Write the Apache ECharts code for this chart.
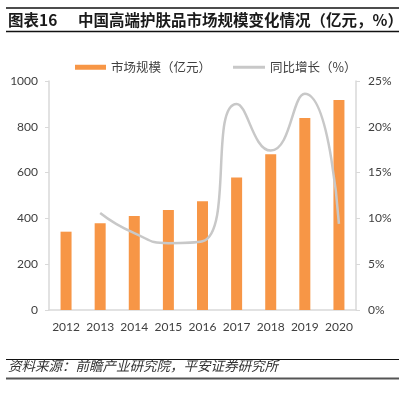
<!DOCTYPE html>
<html>
<head>
<meta charset="utf-8">
<script src="https://cdn.jsdelivr.net/npm/echarts@6/dist/echarts.min.js"></script>
<style>
  html, body { margin: 0; padding: 0; background: #fff; }
  #chart { width: 409px; height: 399px; }
</style>
</head>
<body>
<div id="chart"></div>
<script>
// data
var years = ['2012', '2013', '2014', '2015', '2016', '2017', '2018', '2019', '2020']
var marketSize = [342, 379, 410, 437, 475, 579, 680, 838, 917]
var growthRate = [null, 10.6, 8.4, 7.3, 7.5, 22.5, 17.4, 23.6, 9.4]

var cjk = '"Noto Sans CJK SC", "Noto Sans", sans-serif'
var num = 'Lato, "Noto Sans", sans-serif'

var chart = echarts.init(document.getElementById('chart'), null, { renderer: 'canvas' })

chart.setOption({
  animation: false,
  backgroundColor: '#fff',
  grid: { left: 49, right: 53, top: 81, bottom: 89 },
  legend: [{
    left: 70,
    top: 56,
    itemWidth: 31,
    itemHeight: 5,
    icon: 'rect',
    data: ['市场规模（亿元）'],
    textStyle: { fontFamily: cjk, fontSize: 12.5, color: '#404040' }
  }, {
    left: 228,
    top: 56,
    itemWidth: 32,
    itemHeight: 3,
    icon: 'rect',
    data: ['同比增长（%）'],
    textStyle: { fontFamily: cjk, fontSize: 12.5, color: '#404040' }
  }],
  xAxis: {
    type: 'category',
    data: years,
    axisLine: { lineStyle: { color: '#D9D9D9', width: 1.5 } },
    axisTick: { show: false },
    axisLabel: { interval: 0, fontFamily: num, fontSize: 12, color: '#404040', margin: 11 }
  },
  yAxis: [{
    type: 'value',
    min: 0,
    max: 1000,
    interval: 200,
    axisLine: { show: true, lineStyle: { color: '#D9D9D9', width: 1.5 } },
    axisTick: { show: true, length: 4, lineStyle: { color: '#D9D9D9' } },
    splitLine: { show: false },
    axisLabel: {
      fontFamily: num, fontSize: 12, color: '#404040', margin: 11,
      formatter: function (v) { return String(v) }
    }
  }, {
    type: 'value',
    min: 0,
    max: 25,
    interval: 5,
    axisLine: { show: true, lineStyle: { color: '#D9D9D9', width: 1.5 } },
    axisTick: { show: true, length: 4, lineStyle: { color: '#D9D9D9' } },
    splitLine: { show: false },
    axisLabel: {
      fontFamily: num, fontSize: 12, color: '#404040', margin: 12,
      formatter: function (v) { return v + '%' }
    }
  }],
  series: [{
    name: '市场规模（亿元）',
    type: 'bar',
    data: marketSize,
    barWidth: 11,
    itemStyle: { color: '#F79646' }
  }, {
    name: '同比增长（%）',
    type: 'line',
    yAxisIndex: 1,
    data: growthRate,
    smooth: 0.55,
    showSymbol: false,
    symbol: 'none',
    itemStyle: { color: '#C8C8C8' },
    lineStyle: { color: '#C8C8C8', width: 2.5 }
  }],
  graphic: [
    { type: 'line', shape: { x1: 6, y1: 8, x2: 399, y2: 8 }, style: { stroke: '#111', lineWidth: 1.5 } },
    { type: 'text', left: 8, top: 12, style: { text: '图表16', font: 'bold 15.5px ' + cjk, fill: '#1a1a1a' } },
    { type: 'text', left: 78, top: 12, style: { text: '中国高端护肤品市场规模变化情况（亿元，%）', font: 'bold 15.5px ' + cjk, fill: '#1a1a1a' } },
    { type: 'line', shape: { x1: 6, y1: 31.5, x2: 399, y2: 31.5 }, style: { stroke: '#111', lineWidth: 1.5 } },
    { type: 'line', shape: { x1: 6, y1: 359.5, x2: 399, y2: 359.5 }, style: { stroke: '#111', lineWidth: 1 } },
    { type: 'text', left: 8, top: 359, style: { text: '资料来源：前瞻产业研究院，平安证券研究所', font: 'italic 13.5px ' + cjk, fill: '#333' } },
    { type: 'line', shape: { x1: 6, y1: 378.5, x2: 399, y2: 378.5 }, style: { stroke: '#555', lineWidth: 2 } }
  ]
})
</script>
</body>
</html>
